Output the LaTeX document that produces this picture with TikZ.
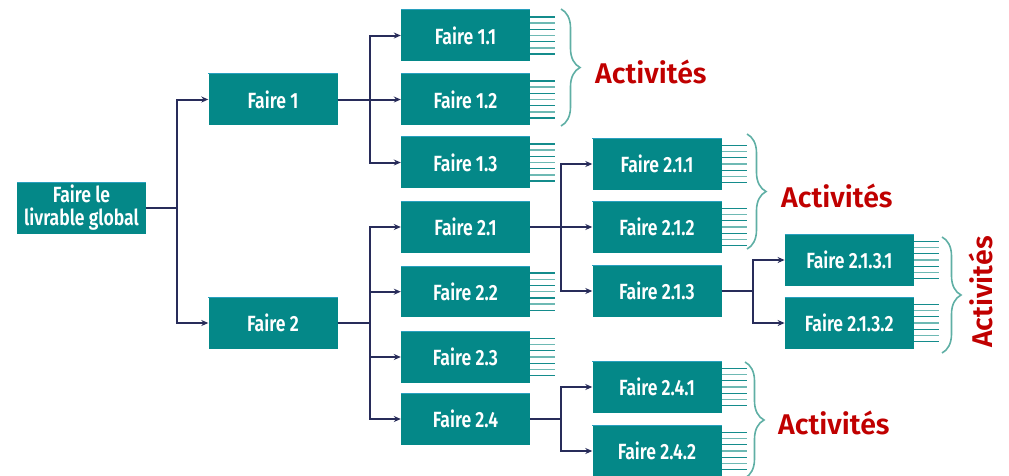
\documentclass[tikz,border=0pt]{standalone}
\usepackage{fontspec}
\setmainfont{Fira Sans}[BoldFont={Fira Sans SemiBold}]
\newfontfamily\boxfont{Fira Sans}[FakeStretch=0.8,BoldFont={Fira Sans SemiBold}]
\usetikzlibrary{arrows.meta,decorations.pathreplacing,calc}
\definecolor{boxteal}{RGB}{4,136,136}
\definecolor{topblue}{RGB}{40,160,190}
\definecolor{navy}{RGB}{40,44,90}
\definecolor{stubA}{RGB}{20,140,140}
\definecolor{stubB}{RGB}{110,185,180}
\definecolor{bracec}{RGB}{95,175,165}
\definecolor{actred}{RGB}{192,0,0}
\begin{document}
\begin{tikzpicture}[x=1pt,y=-1pt,
  wbox/.style={fill=boxteal, minimum width=129pt, minimum height=51pt, inner sep=0pt,
    text=white, font=\boxfont\bfseries\fontsize{22}{23}\selectfont, align=center},
  conn/.style={draw=navy, line width=2pt},
  arr/.style={conn, -{Stealth[length=7pt,width=6pt]}},
  stub/.style={line width=1.3pt},
  brc/.style={draw=bracec, line width=1.6pt, decorate, decoration={brace, amplitude=19pt}},
  act/.style={text=actred, font=\bfseries\fontsize{28.5}{32}\selectfont, inner sep=0pt}]
\path[use as bounding box] (0,0) rectangle (1009,475);

% boxes
\node[wbox] (f0) at (81.5,208) {Faire le\\livrable global};
\node[wbox] (f1) at (273,99.5) {Faire 1};
\node[wbox] (f2) at (273,323) {Faire 2};
\node[wbox] (f11) at (465.5,35.5) {Faire 1.1};
\node[wbox] (f12) at (465.5,99.5) {Faire 1.2};
\node[wbox] (f13) at (465.5,162.5) {Faire 1.3};
\node[wbox] (f21) at (465.5,227) {Faire 2.1};
\node[wbox] (f22) at (465.5,291.7) {Faire 2.2};
\node[wbox] (f23) at (465.5,357) {Faire 2.3};
\node[wbox] (f24) at (465.5,419) {Faire 2.4};
\node[wbox] (f211) at (657,164) {Faire 2.1.1};
\node[wbox] (f212) at (657,227) {Faire 2.1.2};
\node[wbox] (f213) at (657,291) {Faire 2.1.3};
\node[wbox] (f241) at (657,387) {Faire 2.4.1};
\node[wbox] (f242) at (657,451) {Faire 2.4.2};
\node[wbox] (f2131) at (849.3,260) {Faire 2.1.3.1};
\node[wbox] (f2132) at (849.3,323) {Faire 2.1.3.2};

\foreach \n in {f0,f1,f2,f11,f12,f13,f21,f22,f23,f24,f211,f212,f213,f241,f242,f2131,f2132}
  \draw[topblue, line width=1pt] (\n.north west) -- (\n.north east);

% connectors
\foreach \c in {f1,f2} \draw[arr] (f0.east) -- ++(31,0) |- (\c.west);
\foreach \c in {f11,f12,f13} \draw[arr] (f1.east) -- ++(32,0) |- (\c.west);
\foreach \c in {f21,f22,f23,f24} \draw[arr] (f2.east) -- ++(32,0) |- (\c.west);
\foreach \c in {f211,f212,f213} \draw[arr] (f21.east) -- ++(31,0) |- (\c.west);
\foreach \c in {f241,f242} \draw[arr] (f24.east) -- ++(31,0) |- (\c.west);
\foreach \c in {f2131,f2132} \draw[arr] (f213.east) -- ++(31.5,0) |- (\c.west);

% activity stubs
\foreach \n in {f11,f12,f13,f22,f23,f211,f212,f2131,f2132,f241,f242}{
  \foreach \i in {0,2,4,6} \draw[stub,stubA] ($(\n.east)+(0,{-18.6+6.2*\i})$) -- ++(25,0);
  \foreach \i in {1,3,5} \draw[stub,stubB] ($(\n.east)+(0,{-18.6+6.2*\i})$) -- ++(25,0);
}

% braces and labels
\draw[brc] (561,9) -- (561,126);
\node[act, anchor=west] (a1) at (595,72) {Activités};
\draw[brc] (747,134) -- (747,249);
\node[act, anchor=west] (a2) at (781,196) {Activités};
\draw[brc] (942,237) -- (942,353);
\node[act, rotate=90] (a3) at (980.5,292) {Activités};
\draw[brc] (745,362) -- (745,478);
\node[act, anchor=west] (a4) at (778,423) {Activités};
\end{tikzpicture}
\end{document}
